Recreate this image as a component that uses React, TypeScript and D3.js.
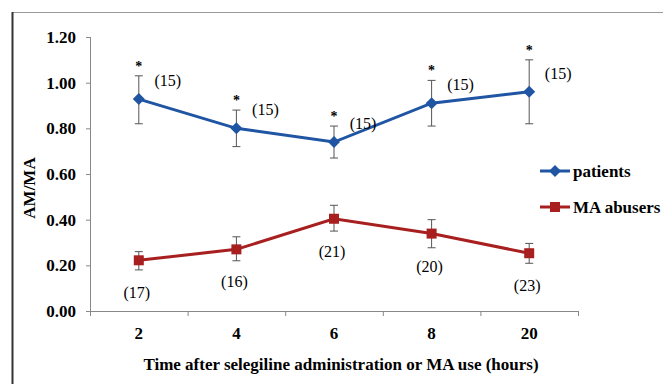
import * as d3 from "d3";

// categories on the x axis (hours)
const hours = ["2", "4", "6", "8", "20"];

// patients series: mean, lower and upper error, n
const patientMean = [0.928, 0.8, 0.74, 0.91, 0.96];
const patientLow = [0.82, 0.72, 0.67, 0.81, 0.82];
const patientHigh = [1.03, 0.88, 0.81, 1.01, 1.1];
const patientN = [15, 15, 15, 15, 15];

// MA abusers series
const abuserMean = [0.222, 0.27, 0.404, 0.339, 0.253];
const abuserLow = [0.18, 0.22, 0.35, 0.277, 0.209];
const abuserHigh = [0.26, 0.325, 0.463, 0.4, 0.296];
const abuserN = [17, 16, 21, 20, 23];

const yTicks = [0, 0.2, 0.4, 0.6, 0.8, 1.0, 1.2];

const BLUE = "#1f55a3";
const RED = "#a81f1f";
const FONT = "'Liberation Serif', 'Times New Roman', serif";

export default function App() {
  const x = d3.scaleBand<string>().domain(hours).range([90, 578]);
  const y = d3.scaleLinear().domain([0, 1.2]).range([311, 37]);
  const cx = (h: string) => (x(h) ?? 0) + x.bandwidth() / 2;

  const line = d3
    .line<number>()
    .x((_, i) => cx(hours[i]))
    .y((d) => y(d));

  const boundaries = hours.map((h) => x(h) ?? 0).concat([578]);

  const errorBars = (low: number[], high: number[]) =>
    hours.map((h, i) => (
      <g key={h} stroke="#555" strokeWidth={1}>
        <line x1={cx(h)} x2={cx(h)} y1={y(low[i])} y2={y(high[i])} />
        <line x1={cx(h) - 4} x2={cx(h) + 4} y1={y(low[i])} y2={y(low[i])} />
        <line x1={cx(h) - 4} x2={cx(h) + 4} y1={y(high[i])} y2={y(high[i])} />
      </g>
    ));

  const diamond = (px: number, py: number, k: string | number) => (
    <path
      key={k}
      d={`M${px},${py - 6}L${px + 6},${py}L${px},${py + 6}L${px - 6},${py}Z`}
      fill={BLUE}
    />
  );
  const square = (px: number, py: number, k: string | number) => (
    <rect key={k} x={px - 5} y={py - 5} width={10} height={10} fill={RED} />
  );

  return (
    <svg
      width={663}
      height={385}
      style={{ position: "absolute", left: 0, top: 0, background: "#fff" }}
      fontFamily={FONT}
    >
      {/* frame */}
      <line x1={12} x2={663} y1={12.5} y2={12.5} stroke="#999" strokeWidth={1} />
      <line x1={12.5} x2={12.5} y1={12} y2={384} stroke="#333" strokeWidth={2} />

      {/* y axis */}
      <line x1={90.5} x2={90.5} y1={y(1.2)} y2={y(0)} stroke="#888" />
      {yTicks.map((t) => (
        <g key={t}>
          <line x1={86} x2={90} y1={y(t) + 0.5} y2={y(t) + 0.5} stroke="#888" />
          <text
            x={76}
            y={y(t) + 6}
            textAnchor="end"
            fontSize={17}
            fontWeight="bold"
          >
            {t.toFixed(2)}
          </text>
        </g>
      ))}

      {/* x axis */}
      <line x1={90} x2={578} y1={y(0) + 0.5} y2={y(0) + 0.5} stroke="#888" />
      {boundaries.map((b, i) => (
        <line
          key={i}
          x1={b + 0.5}
          x2={b + 0.5}
          y1={y(0)}
          y2={y(0) + 5}
          stroke="#888"
        />
      ))}
      {hours.map((h) => (
        <text
          key={h}
          x={cx(h)}
          y={339}
          textAnchor="middle"
          fontSize={17}
          fontWeight="bold"
        >
          {h}
        </text>
      ))}

      <text x={341} y={370} textAnchor="middle" fontSize={17} fontWeight="bold">
        Time after selegiline administration or MA use (hours)
      </text>
      <text
        transform="translate(35,188) rotate(-90)"
        textAnchor="middle"
        fontSize={17}
        fontWeight="bold"
      >
        AM/MA
      </text>

      {/* error bars */}
      {errorBars(patientLow, patientHigh)}
      {errorBars(abuserLow, abuserHigh)}

      {/* lines */}
      <path d={line(patientMean) ?? ""} fill="none" stroke={BLUE} strokeWidth={3} />
      <path d={line(abuserMean) ?? ""} fill="none" stroke={RED} strokeWidth={3} />

      {/* markers */}
      {patientMean.map((v, i) => diamond(cx(hours[i]), y(v), i))}
      {abuserMean.map((v, i) => square(cx(hours[i]), y(v), i))}

      {/* significance marks */}
      {hours.map((h, i) => (
        <text
          key={h}
          x={cx(h)}
          y={y(patientHigh[i]) - 5}
          textAnchor="middle"
          fontSize={14}
          fontWeight="bold"
        >
          *
        </text>
      ))}

      {/* n labels */}
      {hours.map((h, i) => (
        <text
          key={h}
          x={cx(h) + 29}
          y={y(patientMean[i]) - 13}
          textAnchor="middle"
          fontSize={16}
        >
          ({patientN[i]})
        </text>
      ))}
      {hours.map((h, i) => (
        <text
          key={h}
          x={cx(h) - 2}
          y={y(abuserMean[i]) + 38}
          textAnchor="middle"
          fontSize={16}
        >
          ({abuserN[i]})
        </text>
      ))}

      {/* legend */}
      <line x1={540} x2={570} y1={171} y2={171} stroke={BLUE} strokeWidth={3} />
      {diamond(555, 171, "ld")}
      <text x={573} y={177} fontSize={17} fontWeight="bold">
        patients
      </text>
      <line x1={540} x2={570} y1={207} y2={207} stroke={RED} strokeWidth={3} />
      {square(555, 207, "ls")}
      <text x={573} y={213} fontSize={17} fontWeight="bold">
        MA abusers
      </text>
    </svg>
  );
}
